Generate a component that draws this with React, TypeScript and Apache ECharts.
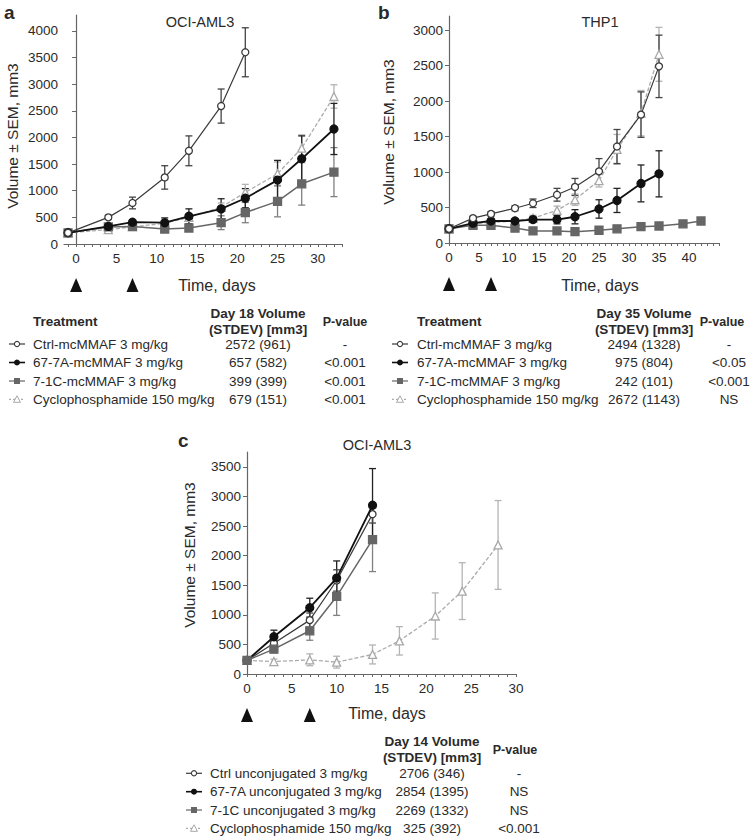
import React, { useEffect, useRef } from "react";
import * as echarts from "echarts";

// ---------- DATA ----------
// Panel a (OCI-AML3, mcMMAF)
const aCtrlDays = [-1, 4, 7, 11, 14, 18, 21];
const aCtrlVol = [210, 500, 770, 1250, 1750, 2590, 3600];
const aCtrlSem = [15, 40, 110, 220, 280, 320, 460];
const aDays = [-1, 4, 7, 11, 14, 18, 21, 25, 28, 32];
const a677Vol = [210, 330, 410, 400, 520, 660, 860, 1200, 1600, 2160];
const a677Sem = [15, 40, 40, 90, 140, 190, 180, 370, 430, 480];
const a71cVol = [210, 320, 330, 280, 300, 400, 590, 800, 1130, 1350];
const a71cSem = [15, 50, 40, 50, 60, 130, 190, 290, 400, 460];
const aCycVol = [210, 270, 320, 390, 500, 690, 970, 1320, 1800, 2770];
const aCycSem = [15, 60, 50, 60, 60, 80, 150, 220, 250, 220];

// Panel b (THP1, mcMMAF)
const bDays = [0, 4, 7, 11, 14, 18, 21, 25, 28, 32, 35];
const bCtrlVol = [200, 350, 410, 490, 560, 680, 790, 1010, 1360, 1810, 2490];
const bCtrlSem = [15, 25, 30, 35, 60, 90, 120, 180, 240, 320, 440];
const b677Vol = [200, 280, 310, 310, 330, 330, 370, 480, 600, 840, 975];
const b677Sem = [15, 20, 25, 30, 40, 60, 100, 130, 170, 260, 325];
const b71cDays = [0, 4, 7, 11, 14, 18, 21, 25, 28, 32, 35, 39, 42];
const b71cVol = [200, 250, 250, 210, 170, 170, 160, 180, 200, 230, 240, 270, 310];
const b71cSem = [15, 30, 40, 25, 15, 15, 15, 15, 20, 20, 20, 25, 25];
const bCycVol = [200, 270, 290, 310, 350, 460, 610, 880, 1320, 1830, 2660];
const bCycSem = [15, 20, 25, 30, 40, 60, 80, 90, 210, 320, 380];

// Panel c (OCI-AML3, unconjugated)
const cDays = [0, 3, 7, 10, 14];
const cCtrlVol = [230, 520, 910, 1580, 2700];
const cCtrlSem = [20, 80, 120, 180, 150];
const c677Vol = [230, 630, 1120, 1620, 2850];
const c677Sem = [20, 110, 160, 290, 620];
const c71cVol = [230, 420, 730, 1310, 2270];
const c71cSem = [20, 60, 160, 320, 540];
const cCycDays = [0, 3, 7, 10, 14, 17, 21, 24, 28];
const cCycVol = [230, 210, 240, 200, 330, 560, 980, 1400, 2180];
const cCycSem = [20, 40, 100, 100, 160, 240, 390, 480, 750];

const doseDays = [0, 7];

// Axis tick labels
const aXLabels = [0, 5, 10, 15, 20, 25, 30];
const aYLabels = [0, 500, 1000, 1500, 2000, 2500, 3000, 3500, 4000];
const bXLabels = [0, 5, 10, 15, 20, 25, 30, 35, 40];
const bYLabels = [0, 500, 1000, 1500, 2000, 2500, 3000];
const cXLabels = [0, 5, 10, 15, 20, 25, 30];
const cYLabels = [0, 500, 1000, 1500, 2000, 2500, 3000, 3500];

// Tables
const aTreatments = ["Ctrl-mcMMAF 3 mg/kg", "67-7A-mcMMAF 3 mg/kg", "7-1C-mcMMAF 3 mg/kg", "Cyclophosphamide 150 mg/kg"];
const aDay18 = ["2572 (961)", "657 (582)", "399 (399)", "679 (151)"];
const aPvals = ["-", "<0.001", "<0.001", "<0.001"];
const bTreatments = ["Ctrl-mcMMAF 3 mg/kg", "67-7A-mcMMAF 3 mg/kg", "7-1C-mcMMAF 3 mg/kg", "Cyclophosphamide 150 mg/kg"];
const bDay35 = ["2494 (1328)", "975 (804)", "242 (101)", "2672 (1143)"];
const bPvals = ["-", "<0.05", "<0.001", "NS"];
const cTreatments = ["Ctrl unconjugated 3 mg/kg", "67-7A unconjugated 3 mg/kg", "7-1C unconjugated 3 mg/kg", "Cyclophosphamide 150 mg/kg"];
const cDay14 = ["2706 (346)", "2854 (1395)", "2269 (1332)", "325 (392)"];
const cPvals = ["-", "NS", "NS", "<0.001"];

// ---------- STYLES ----------
const FONT = "Liberation Sans, Arial, Helvetica, sans-serif";
const TXT = "#2a2a2a";
const AXIS = "#666";

type Kind = "ctrl" | "a677" | "c71" | "cyc";
const STY: Record<Kind, { line: string; width: number; dash: boolean; symbol: string; size: number; fill: string; border: string; err: string }> = {
  ctrl: { line: "#3a3a3a", width: 1.2, dash: false, symbol: "circle", size: 7, fill: "#ffffff", border: "#3a3a3a", err: "#444" },
  a677: { line: "#111111", width: 1.8, dash: false, symbol: "circle", size: 8, fill: "#111111", border: "#111111", err: "#222" },
  c71: { line: "#666666", width: 1.5, dash: false, symbol: "rect", size: 8, fill: "#666666", border: "#666666", err: "#808080" },
  cyc: { line: "#ababab", width: 1.3, dash: true, symbol: "triangle", size: 8, fill: "#ffffff", border: "#a8a8a8", err: "#b4b4b4" },
};

function range(a: number, b: number) {
  const r: number[] = [];
  for (let i = a; i <= b; i++) r.push(i);
  return r;
}

function lineSeries(idx: number, kind: Kind, days: number[], vol: number[], z: number) {
  const s = STY[kind];
  return {
    type: "line",
    xAxisIndex: idx,
    yAxisIndex: idx,
    data: days.map((d, i) => [d, vol[i]]),
    symbol: s.symbol,
    symbolSize: s.size,
    showAllSymbol: true,
    lineStyle: { color: s.line, width: s.width, type: s.dash ? [4, 2] : "solid" },
    itemStyle: { color: s.fill, borderColor: s.border, borderWidth: 1.3 },
    z,
    silent: true,
  };
}

function errSeries(idx: number, kind: Kind, days: number[], vol: number[], sem: number[]) {
  const color = STY[kind].err;
  return {
    type: "custom",
    xAxisIndex: idx,
    yAxisIndex: idx,
    data: days.map((d, i) => [d, vol[i] - sem[i], vol[i] + sem[i]]),
    encode: { x: 0, y: [1, 2] },
    z: 1,
    silent: true,
    renderItem: (_p: any, api: any) => {
      const x = api.value(0);
      const p1 = api.coord([x, api.value(1)]);
      const p2 = api.coord([x, api.value(2)]);
      const w = 3.5;
      const style = { stroke: color, lineWidth: 1.3 };
      return {
        type: "group",
        children: [
          { type: "line", shape: { x1: p1[0], y1: p1[1], x2: p2[0], y2: p2[1] }, style },
          { type: "line", shape: { x1: p1[0] - w, y1: p1[1], x2: p1[0] + w, y2: p1[1] }, style },
          { type: "line", shape: { x1: p2[0] - w, y1: p2[1], x2: p2[0] + w, y2: p2[1] }, style },
        ],
      };
    },
  };
}

function doseSeries(idx: number) {
  return {
    type: "custom",
    xAxisIndex: idx,
    yAxisIndex: idx,
    data: doseDays.map((d) => [d, 0]),
    clip: false,
    silent: true,
    renderItem: (_p: any, api: any) => {
      const p = api.coord([api.value(0), api.value(1)]);
      const top = p[1] + 34;
      return {
        type: "polygon",
        shape: { points: [[p[0], top], [p[0] + 6, top + 14], [p[0] - 6, top + 14]] },
        style: { fill: "#111" },
      };
    },
  };
}

function xAxis(idx: number, min: number, max: number, labels: number[]) {
  return {
    type: "value",
    gridIndex: idx,
    min,
    max,
    axisLine: { show: true, onZero: false, lineStyle: { color: AXIS, width: 1.2 } },
    axisTick: { show: true, length: 3, inside: false, customValues: range(Math.ceil(min), Math.floor(max)), lineStyle: { color: AXIS, width: 1 } },
    axisLabel: { customValues: labels, fontSize: 13.5, color: TXT, fontFamily: FONT, margin: 7, formatter: (v: number) => String(v) },
    splitLine: { show: false },
  };
}

function yAxis(idx: number, max: number, labels: number[]) {
  return {
    type: "value",
    gridIndex: idx,
    min: 0,
    max,
    axisLine: { show: true, lineStyle: { color: AXIS, width: 1.2 } },
    axisTick: { show: true, length: 4, customValues: labels, lineStyle: { color: AXIS, width: 1 } },
    axisLabel: { customValues: labels, fontSize: 13.5, color: TXT, fontFamily: FONT, margin: 6, formatter: (v: number) => String(v) },
    splitLine: { show: false },
  };
}

function txt(text: string, x: number, y: number, opts: any = {}) {
  return {
    type: "text",
    x,
    y,
    rotation: opts.rotation || 0,
    style: {
      text,
      fill: TXT,
      font: `${opts.bold ? "bold " : ""}${opts.size || 13.5}px ${FONT}`,
      align: opts.align || "left",
      verticalAlign: "middle",
    },
  };
}

function icon(kind: Kind, cx: number, cy: number) {
  const s = STY[kind];
  const lineStyle = { stroke: s.line, lineWidth: kind === "a677" ? 1.6 : 1.2, lineDash: s.dash ? [2, 2] : null };
  const children: any[] = [
    { type: "line", shape: { x1: cx - 8, y1: cy, x2: cx + 8, y2: cy }, style: lineStyle },
  ];
  if (kind === "ctrl") children.push({ type: "circle", shape: { cx, cy, r: 2.6 }, style: { fill: "#fff", stroke: s.border, lineWidth: 1.1 } });
  if (kind === "a677") children.push({ type: "circle", shape: { cx, cy, r: 3 }, style: { fill: "#111" } });
  if (kind === "c71") children.push({ type: "rect", shape: { x: cx - 3, y: cy - 3, width: 6, height: 6 }, style: { fill: "#666" } });
  if (kind === "cyc")
    children.push({ type: "polygon", shape: { points: [[cx, cy - 3.5], [cx + 3.5, cy + 3], [cx - 3.5, cy + 3]] }, style: { fill: "#fff", stroke: s.border, lineWidth: 1 } });
  return { type: "group", children };
}

const KINDS: Kind[] = ["ctrl", "a677", "c71", "cyc"];

function table(
  names: string[], vals: string[], pv: string[], dayHeader: string,
  iconX: number, nameX: number, valX: number, pX: number, pHdrX: number, hdrY: number, rowY: number[], treatmentHeader: boolean
) {
  const els: any[] = [];
  if (treatmentHeader) els.push(txt("Treatment", nameX, hdrY + 8, { bold: true }));
  els.push(txt(dayHeader, valX, hdrY, { bold: true, align: "center" }));
  els.push(txt("(STDEV) [mm3]", valX, hdrY + 16, { bold: true, align: "center" }));
  els.push(txt("P-value", pHdrX, hdrY + 9, { bold: true, align: "center", size: 12.5 }));
  names.forEach((n, i) => {
    els.push(icon(KINDS[i], iconX, rowY[i]));
    els.push(txt(n, nameX, rowY[i]));
    els.push(txt(vals[i], valX, rowY[i], { align: "center" }));
    els.push(txt(pv[i], pX, rowY[i], { align: "center" }));
  });
  return els;
}

export default function App() {
  const ref = useRef<HTMLDivElement>(null);
  useEffect(() => {
    document.body.style.margin = "0";
    const chart = echarts.init(ref.current!, undefined, { renderer: "svg" });
    const rowsTop = [344, 362.5, 381, 399.3];
    const rowsC = [773.3, 791.7, 810, 828.3];
    const option: any = {
      animation: false,
      backgroundColor: "#ffffff",
      textStyle: { fontFamily: FONT },
      grid: [
        { left: 64, top: 15, width: 278, height: 229 },
        { left: 449, top: 16, width: 270, height: 227 },
        { left: 247, top: 452, width: 269, height: 222 },
      ],
      xAxis: [xAxis(0, -1.5, 33, aXLabels), xAxis(1, 0, 45, bXLabels), xAxis(2, 0, 30, cXLabels)],
      yAxis: [yAxis(0, 4300, aYLabels), yAxis(1, 3200, bYLabels), yAxis(2, 3750, cYLabels)],
      series: [
        errSeries(0, "cyc", aDays, aCycVol, aCycSem),
        errSeries(0, "c71", aDays, a71cVol, a71cSem),
        errSeries(0, "a677", aDays, a677Vol, a677Sem),
        errSeries(0, "ctrl", aCtrlDays, aCtrlVol, aCtrlSem),
        lineSeries(0, "cyc", aDays, aCycVol, 2),
        lineSeries(0, "c71", aDays, a71cVol, 3),
        lineSeries(0, "a677", aDays, a677Vol, 4),
        lineSeries(0, "ctrl", aCtrlDays, aCtrlVol, 5),
        doseSeries(0),

        errSeries(1, "cyc", bDays, bCycVol, bCycSem),
        errSeries(1, "c71", b71cDays, b71cVol, b71cSem),
        errSeries(1, "a677", bDays, b677Vol, b677Sem),
        errSeries(1, "ctrl", bDays, bCtrlVol, bCtrlSem),
        lineSeries(1, "cyc", bDays, bCycVol, 2),
        lineSeries(1, "c71", b71cDays, b71cVol, 3),
        lineSeries(1, "a677", bDays, b677Vol, 4),
        lineSeries(1, "ctrl", bDays, bCtrlVol, 5),
        doseSeries(1),

        errSeries(2, "cyc", cCycDays, cCycVol, cCycSem),
        errSeries(2, "c71", cDays, c71cVol, c71cSem),
        errSeries(2, "a677", cDays, c677Vol, c677Sem),
        errSeries(2, "ctrl", cDays, cCtrlVol, cCtrlSem),
        lineSeries(2, "cyc", cCycDays, cCycVol, 2),
        lineSeries(2, "ctrl", cDays, cCtrlVol, 3),
        lineSeries(2, "a677", cDays, c677Vol, 4),
        lineSeries(2, "c71", cDays, c71cVol, 5),
        doseSeries(2),
      ],
      graphic: [
        txt("a", 4, 12, { bold: true, size: 19 }),
        txt("b", 378, 12, { bold: true, size: 19 }),
        txt("c", 178, 440, { bold: true, size: 19 }),
        txt("OCI-AML3", 200, 22, { size: 14.5, align: "center" }),
        txt("THP1", 600, 22, { size: 14.5, align: "center" }),
        txt("OCI-AML3", 377, 445, { size: 14.5, align: "center" }),
        txt("Volume ± SEM, mm3", 12, 136, { size: 15.5, align: "center", rotation: Math.PI / 2 }),
        txt("Volume ± SEM, mm3", 388, 132, { size: 15.5, align: "center", rotation: Math.PI / 2 }),
        txt("Volume ± SEM, mm3", 189, 555, { size: 15.5, align: "center", rotation: Math.PI / 2 }),
        txt("Time, days", 217, 285, { size: 16, align: "center" }),
        txt("Time, days", 600, 285, { size: 16, align: "center" }),
        txt("Time, days", 387, 713, { size: 16, align: "center" }),
        ...table(aTreatments, aDay18, aPvals, "Day 18 Volume", 17, 33, 258, 345, 345, 313, rowsTop, true),
        ...table(bTreatments, bDay35, bPvals, "Day 35 Volume", 400, 417, 644, 729, 722, 313, rowsTop, true),
        ...table(cTreatments, cDay14, cPvals, "Day 14 Volume", 194, 210, 432, 519, 515, 741, rowsC, false),
      ],
    };
    chart.setOption(option);
    return () => chart.dispose();
  }, []);
  return <div ref={ref} style={{ width: 752, height: 838 }} />;
}
